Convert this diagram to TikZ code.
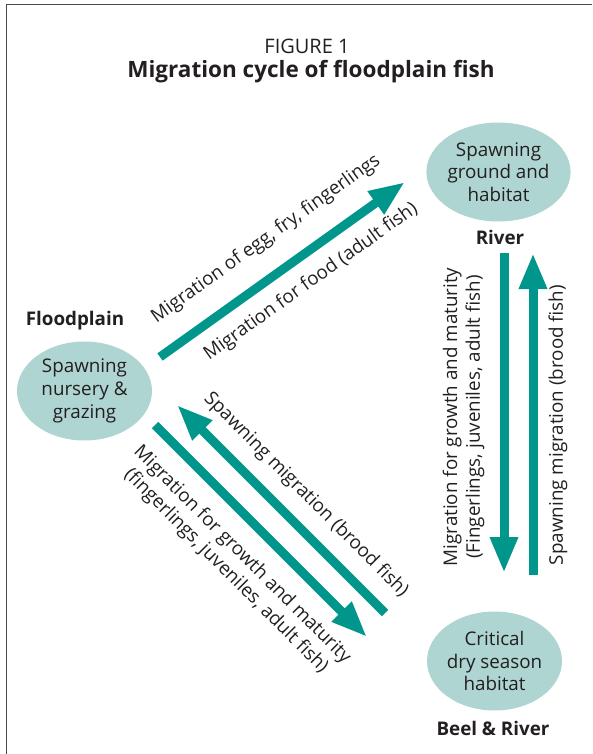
\documentclass[tikz,border=0pt]{standalone}
\usepackage{fontspec}
\setmainfont{Open Sans}
\usetikzlibrary{arrows.meta}
\usetikzlibrary{shapes.geometric}

\definecolor{fishteal}{RGB}{0,150,140}
\definecolor{pondfill}{RGB}{174,213,209}
\definecolor{inkgray}{RGB}{35,31,32}
\definecolor{framegray}{RGB}{75,75,75}

\newcommand{\bodysize}{\fontsize{18.8}{22.8}\selectfont}

\tikzset{
  habitat/.style={ellipse, fill=pondfill, inner sep=0pt, minimum width=135pt, minimum height=99pt, align=center, text=inkgray, font=\bodysize},
  place/.style={text=inkgray, font=\bodysize\bfseries},
  note/.style={text=inkgray, font=\bodysize, align=center, inner sep=0pt},
  flow/.style={draw=fishteal, line width=9pt, -{Triangle[length=36pt, width=26pt]}},
}

\begin{document}
\begin{tikzpicture}[x=1pt, y=-1pt]
      \useasboundingbox (0,0) rectangle (592,754);
      \draw[framegray, line width=1.5pt] (6.5,754) |- (592,4.5);

      % title
      \node[note, font=\fontsize{20}{24}\selectfont] (fig) at (307,46.5) {FIGURE 1};
      \node[note, font=\fontsize{22.5}{26}\selectfont\bfseries] (title) at (311,72) {Migration cycle of floodplain fish};

      % habitats
      \node[habitat] (flood) at (84.5,391) {Spawning\\nursery \&\\grazing};
      \node[habitat] (river) at (498.5,172) {Spawning\\ground and\\habitat};
      \node[habitat] (beel) at (494.5,661) {Critical\\dry season\\habitat};
      \node[place] (floodname) at (75,321) {Floodplain};
      \node[place] (rivername) at (500,237) {River};
      \node[place] (beelname) at (493,728) {Beel \& River};

      % arrow ends
      \coordinate (eggA) at (160,357);
      \coordinate (eggB) at (405,182);
      \coordinate (downA) at (504,253);
      \coordinate (downB) at (504,573);
      \coordinate (upA) at (533,575);
      \coordinate (upB) at (533,253);
      \coordinate (broodA) at (385,613);
      \coordinate (broodB) at (177,405);
      \coordinate (growA) at (155,425);
      \coordinate (growB) at (367,637);

      \draw[flow] (eggA) -- (eggB);
      \draw[flow] (downA) -- (downB);
      \draw[flow] (upA) -- (upB);
      \draw[flow] (broodA) -- (broodB);
      \draw[flow] (growA) -- (growB);

      % arrow texts
      \node[note, rotate=35.5] (eggtext) at (266,239) {Migration of egg, fry, fingerlings};
      \node[note, rotate=35.5] (foodtext) at (311,282) {Migration for food (adult fish)};
      \node[note, rotate=90] (downtext) at (463.5,417) {Migration for growth and maturity\\(Fingerlings, juveniles, adult fish)};
      \node[note, rotate=90] (uptext) at (558,425) {Spawning migration (brood fish)};
      \node[note, rotate=-45] (broodtext) at (306,495) {Spawning migration (brood fish)};
      \node[note, rotate=-45] (growtext) at (234,563) {Migration for growth and maturity\\(fingerlings, juveniles, adult fish)};
\end{tikzpicture}
\end{document}
